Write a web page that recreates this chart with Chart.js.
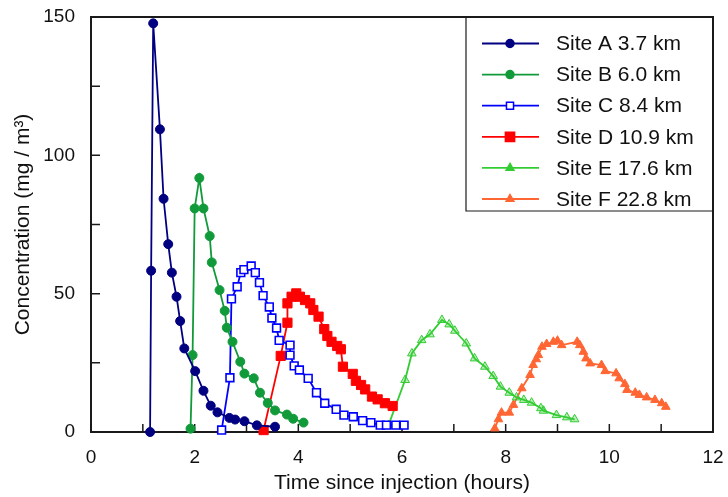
<!DOCTYPE html>
<html>
<head>
<meta charset="utf-8">
<title>Concentration vs time</title>
<script src="https://cdn.jsdelivr.net/npm/chart.js@4"></script>
<style>
  body { margin: 0; background: #fff; }
  #wrap { width: 728px; height: 497px; }
</style>
</head>
<body>
<div id="wrap"><canvas id="myChart"></canvas></div>
<script>
// time (hours) and concentration (mg/m3) for each site
const siteNames = ['Site A 3.7 km', 'Site B 6.0 km', 'Site C 8.4 km', 'Site D 10.9 km', 'Site E 17.6 km', 'Site F 22.8 km'];

const timeA = [1.14, 1.16, 1.20, 1.33, 1.40, 1.49, 1.56, 1.65, 1.72, 1.80, 2.01, 2.17, 2.31, 2.44, 2.67, 2.78, 2.96, 3.20, 3.55];
const concA = [0, 58.3, 147.7, 109.4, 84.3, 67.9, 57.6, 48.9, 40.1, 30.2, 22.0, 14.9, 9.5, 7.1, 5.1, 4.5, 3.9, 2.4, 1.9];

const timeB = [1.92, 1.96, 2.00, 2.09, 2.17, 2.29, 2.33, 2.48, 2.58, 2.62, 2.73, 2.88, 2.96, 3.14, 3.26, 3.41, 3.55, 3.78, 3.90, 4.10];
const concB = [1.2, 27.8, 80.8, 91.8, 80.8, 70.8, 61.3, 51.3, 43.8, 37.7, 32.6, 25.4, 21.1, 19.4, 14.2, 10.5, 7.8, 6.3, 4.8, 3.4];

const timeC = [2.52, 2.68, 2.71, 2.82, 2.89, 2.95, 3.09, 3.17, 3.25, 3.32, 3.44, 3.49, 3.58, 3.63, 3.84, 3.84, 3.92, 4.02, 4.19, 4.35, 4.51, 4.73, 4.88, 5.06, 5.24, 5.40, 5.58, 5.70, 5.88, 6.04];
const concC = [0.7, 19.6, 48.1, 52.5, 57.6, 58.7, 60.0, 57.6, 54.0, 49.3, 45.2, 41.2, 37.6, 33.1, 31.4, 27.8, 23.9, 22.4, 19.4, 14.2, 10.4, 8.2, 6.1, 5.5, 4.1, 3.4, 2.5, 2.5, 2.5, 2.5];

const timeD = [3.33, 3.66, 3.79, 3.79, 3.87, 3.96, 4.03, 4.13, 4.23, 4.29, 4.39, 4.50, 4.56, 4.64, 4.75, 4.82, 4.86, 5.05, 5.11, 5.21, 5.29, 5.42, 5.53, 5.67, 5.82];
const concD = [0.7, 27.5, 39.5, 46.5, 48.9, 50.1, 48.9, 47.7, 46.5, 44.1, 41.7, 37.2, 34.7, 32.6, 31.1, 29.9, 23.6, 21.0, 18.5, 17.0, 15.4, 12.8, 11.8, 10.4, 9.4];

const timeE = [5.74, 6.06, 6.19, 6.38, 6.54, 6.77, 6.91, 7.02, 7.24, 7.40, 7.60, 7.76, 7.90, 8.07, 8.21, 8.35, 8.50, 8.68, 8.73, 8.98, 9.18, 9.33];
const concE = [2.5, 18.8, 28.4, 33.2, 35.3, 40.5, 38.9, 36.6, 32.0, 26.6, 23.6, 20.2, 16.4, 14.2, 12.5, 11.6, 10.6, 8.6, 7.7, 6.1, 5.3, 4.6];

const timeF = [7.79, 7.86, 7.92, 8.07, 8.15, 8.31, 8.47, 8.53, 8.59, 8.63, 8.70, 8.79, 8.92, 9.00, 9.08, 9.38, 9.43, 9.50, 9.55, 9.63, 9.85, 9.92, 10.13, 10.19, 10.30, 10.34, 10.50, 10.58, 10.72, 10.88, 11.01, 11.09];
const concF = [1.3, 4.6, 7.0, 7.0, 9.8, 15.8, 20.6, 24.2, 26.3, 27.8, 30.8, 31.8, 32.6, 33.0, 31.4, 32.6, 31.4, 29.0, 26.6, 24.8, 24.2, 22.0, 21.2, 19.4, 17.3, 15.2, 14.2, 13.4, 12.5, 11.6, 10.4, 9.1];

const xTickLabels = [0, 2, 4, 6, 8, 10, 12];
const yTickLabels = [0, 50, 100, 150];

const fontFamily = "'Liberation Sans', Arial, sans-serif";
Chart.defaults.font.family = fontFamily;

function toPoints(t, c) {
    return t.map((v, i) => ({ x: v, y: c[i] }));
}

// marker look for each site (also used by the legend below)
const styles = [
    { color: '#000080', fill: '#000080', pointStyle: 'circle', radius: 4.5, legendRadius: 4 },
    { color: '#119a3a', fill: '#119a3a', pointStyle: 'circle', radius: 4.5, legendRadius: 4 },
    { color: '#0000ff', fill: '#ffffff', pointStyle: 'rect', radius: 5.5, legendRadius: 5 },
    { color: '#ff0000', fill: '#ff0000', pointStyle: 'rect', radius: 6.5, legendRadius: 6.5 },
    { color: '#33cc33', fill: 'rgba(51,204,51,0.35)', pointStyle: 'triangle', radius: 5, legendRadius: 4.5 },
    { color: '#ff6633', fill: '#ff6633', pointStyle: 'triangle', radius: 5, legendRadius: 4.5 }
];

const series = [
    toPoints(timeA, concA), toPoints(timeB, concB), toPoints(timeC, concC),
    toPoints(timeD, concD), toPoints(timeE, concE), toPoints(timeF, concF)
];

const datasets = series.map((pts, i) => ({
    label: siteNames[i],
    data: pts,
    showLine: true,
    borderColor: styles[i].color,
    borderWidth: 1.8,
    backgroundColor: styles[i].fill,
    pointBorderColor: styles[i].color,
    pointBackgroundColor: styles[i].fill,
    pointBorderWidth: i === 2 ? 1.6 : 1,
    pointStyle: styles[i].pointStyle,
    pointRadius: styles[i].radius,
    tension: 0,
    clip: false
}));

// box around plot, inward tick marks
const framePlugin = {
    id: 'frame',
    beforeDatasetsDraw(chart) {
        const ctx = chart.ctx;
        const a = chart.chartArea;
        const xs = chart.scales.x;
        const ys = chart.scales.y;
        ctx.save();
        ctx.strokeStyle = '#1a1a1a';
        ctx.lineWidth = 2;
        ctx.strokeRect(a.left, a.top, a.right - a.left, a.bottom - a.top);
        ctx.lineWidth = 1.5;
        ctx.beginPath();
        for (let v = 0; v <= 12; v++) {
            const px = xs.getPixelForValue(v);
            ctx.moveTo(px, a.bottom);
            ctx.lineTo(px, a.bottom - 8);
        }
        for (let v = 0; v <= 150; v += 25) {
            const py = ys.getPixelForValue(v);
            ctx.moveTo(a.left, py);
            ctx.lineTo(a.left + 9, py);
        }
        ctx.stroke();
        ctx.restore();
    }
};

function drawMarker(ctx, style, x, y, r) {
    ctx.beginPath();
    if (style.pointStyle === 'circle') {
        ctx.arc(x, y, r, 0, Math.PI * 2);
    } else if (style.pointStyle === 'rect') {
        const s = r * Math.SQRT1_2;
        ctx.rect(x - s, y - s, 2 * s, 2 * s);
    } else {
        ctx.moveTo(x, y - r);
        ctx.lineTo(x + r * 0.866, y + r * 0.5);
        ctx.lineTo(x - r * 0.866, y + r * 0.5);
        ctx.closePath();
    }
    ctx.fillStyle = style.pointStyle === 'triangle' ? style.color : style.fill;
    ctx.fill();
    ctx.lineWidth = 1.5;
    ctx.strokeStyle = style.color;
    ctx.stroke();
}

// legend box in the top right corner
const legendPlugin = {
    id: 'boxLegend',
    afterDraw(chart) {
        const ctx = chart.ctx;
        const a = chart.chartArea;
        const boxLeft = 466, boxTop = a.top, boxBottom = 211;
        ctx.save();
        ctx.fillStyle = '#ffffff';
        ctx.fillRect(boxLeft, boxTop + 1, a.right - boxLeft - 1, boxBottom - boxTop - 1);
        ctx.strokeStyle = '#1a1a1a';
        ctx.lineWidth = 1.2;
        ctx.beginPath();
        ctx.moveTo(boxLeft, boxTop);
        ctx.lineTo(boxLeft, boxBottom);
        ctx.lineTo(a.right, boxBottom);
        ctx.stroke();
        ctx.font = '21px ' + fontFamily;
        ctx.textBaseline = 'middle';
        ctx.textAlign = 'left';
        siteNames.forEach((name, i) => {
            const y = 43.5 + i * 31.1;
            const st = styles[i];
            ctx.strokeStyle = st.color;
            ctx.lineWidth = 1.8;
            ctx.beginPath();
            ctx.moveTo(482, y);
            ctx.lineTo(539, y);
            ctx.stroke();
            drawMarker(ctx, st, 510, y, st.legendRadius);
            ctx.fillStyle = '#111111';
            ctx.fillText(name, 556, y + 1);
        });
        ctx.restore();
    }
};

const myChart = document.getElementById('myChart');

let scatterChart = new Chart(myChart, {
    type: 'scatter',
    data: { datasets: datasets },
    options: {
        responsive: true,
        maintainAspectRatio: false,
        animation: false,
        layout: { padding: { top: 17, right: 15, left: 0, bottom: 0 } },
        plugins: {
            legend: { display: false },
            tooltip: { enabled: false }
        },
        scales: {
            x: {
                type: 'linear',
                min: 0,
                max: 12,
                grid: { display: false, drawTicks: false },
                border: { display: false },
                // fixed height, and don't let the end labels push the plot in
                afterFit(scale) {
                    scale.height = 65;
                    scale.paddingLeft = 0;
                    scale.paddingRight = 0;
                },
                afterBuildTicks(scale) {
                    scale.ticks = xTickLabels.map(v => ({ value: v }));
                },
                ticks: {
                    autoSkip: false,
                    maxRotation: 0,
                    padding: 14,
                    color: '#111111',
                    font: { size: 19 }
                },
                title: {
                    display: true,
                    text: 'Time since injection (hours)',
                    color: '#111111',
                    font: { size: 21 },
                    padding: { top: 0, bottom: 1 }
                }
            },
            y: {
                min: 0,
                max: 150,
                grid: { display: false, drawTicks: false },
                border: { display: false },
                afterFit(scale) {
                    scale.width = 91;
                    scale.paddingTop = 0;
                    scale.paddingBottom = 0;
                },
                afterBuildTicks(scale) {
                    scale.ticks = yTickLabels.map(v => ({ value: v }));
                },
                ticks: {
                    autoSkip: false,
                    padding: 16,
                    color: '#111111',
                    font: { size: 19 }
                },
                title: {
                    display: true,
                    text: 'Concentration (mg / m³)',
                    color: '#111111',
                    font: { size: 21 },
                    padding: { top: 11, bottom: 0 }
                }
            }
        }
    },
    plugins: [framePlugin, legendPlugin]
});
</script>
</body>
</html>
